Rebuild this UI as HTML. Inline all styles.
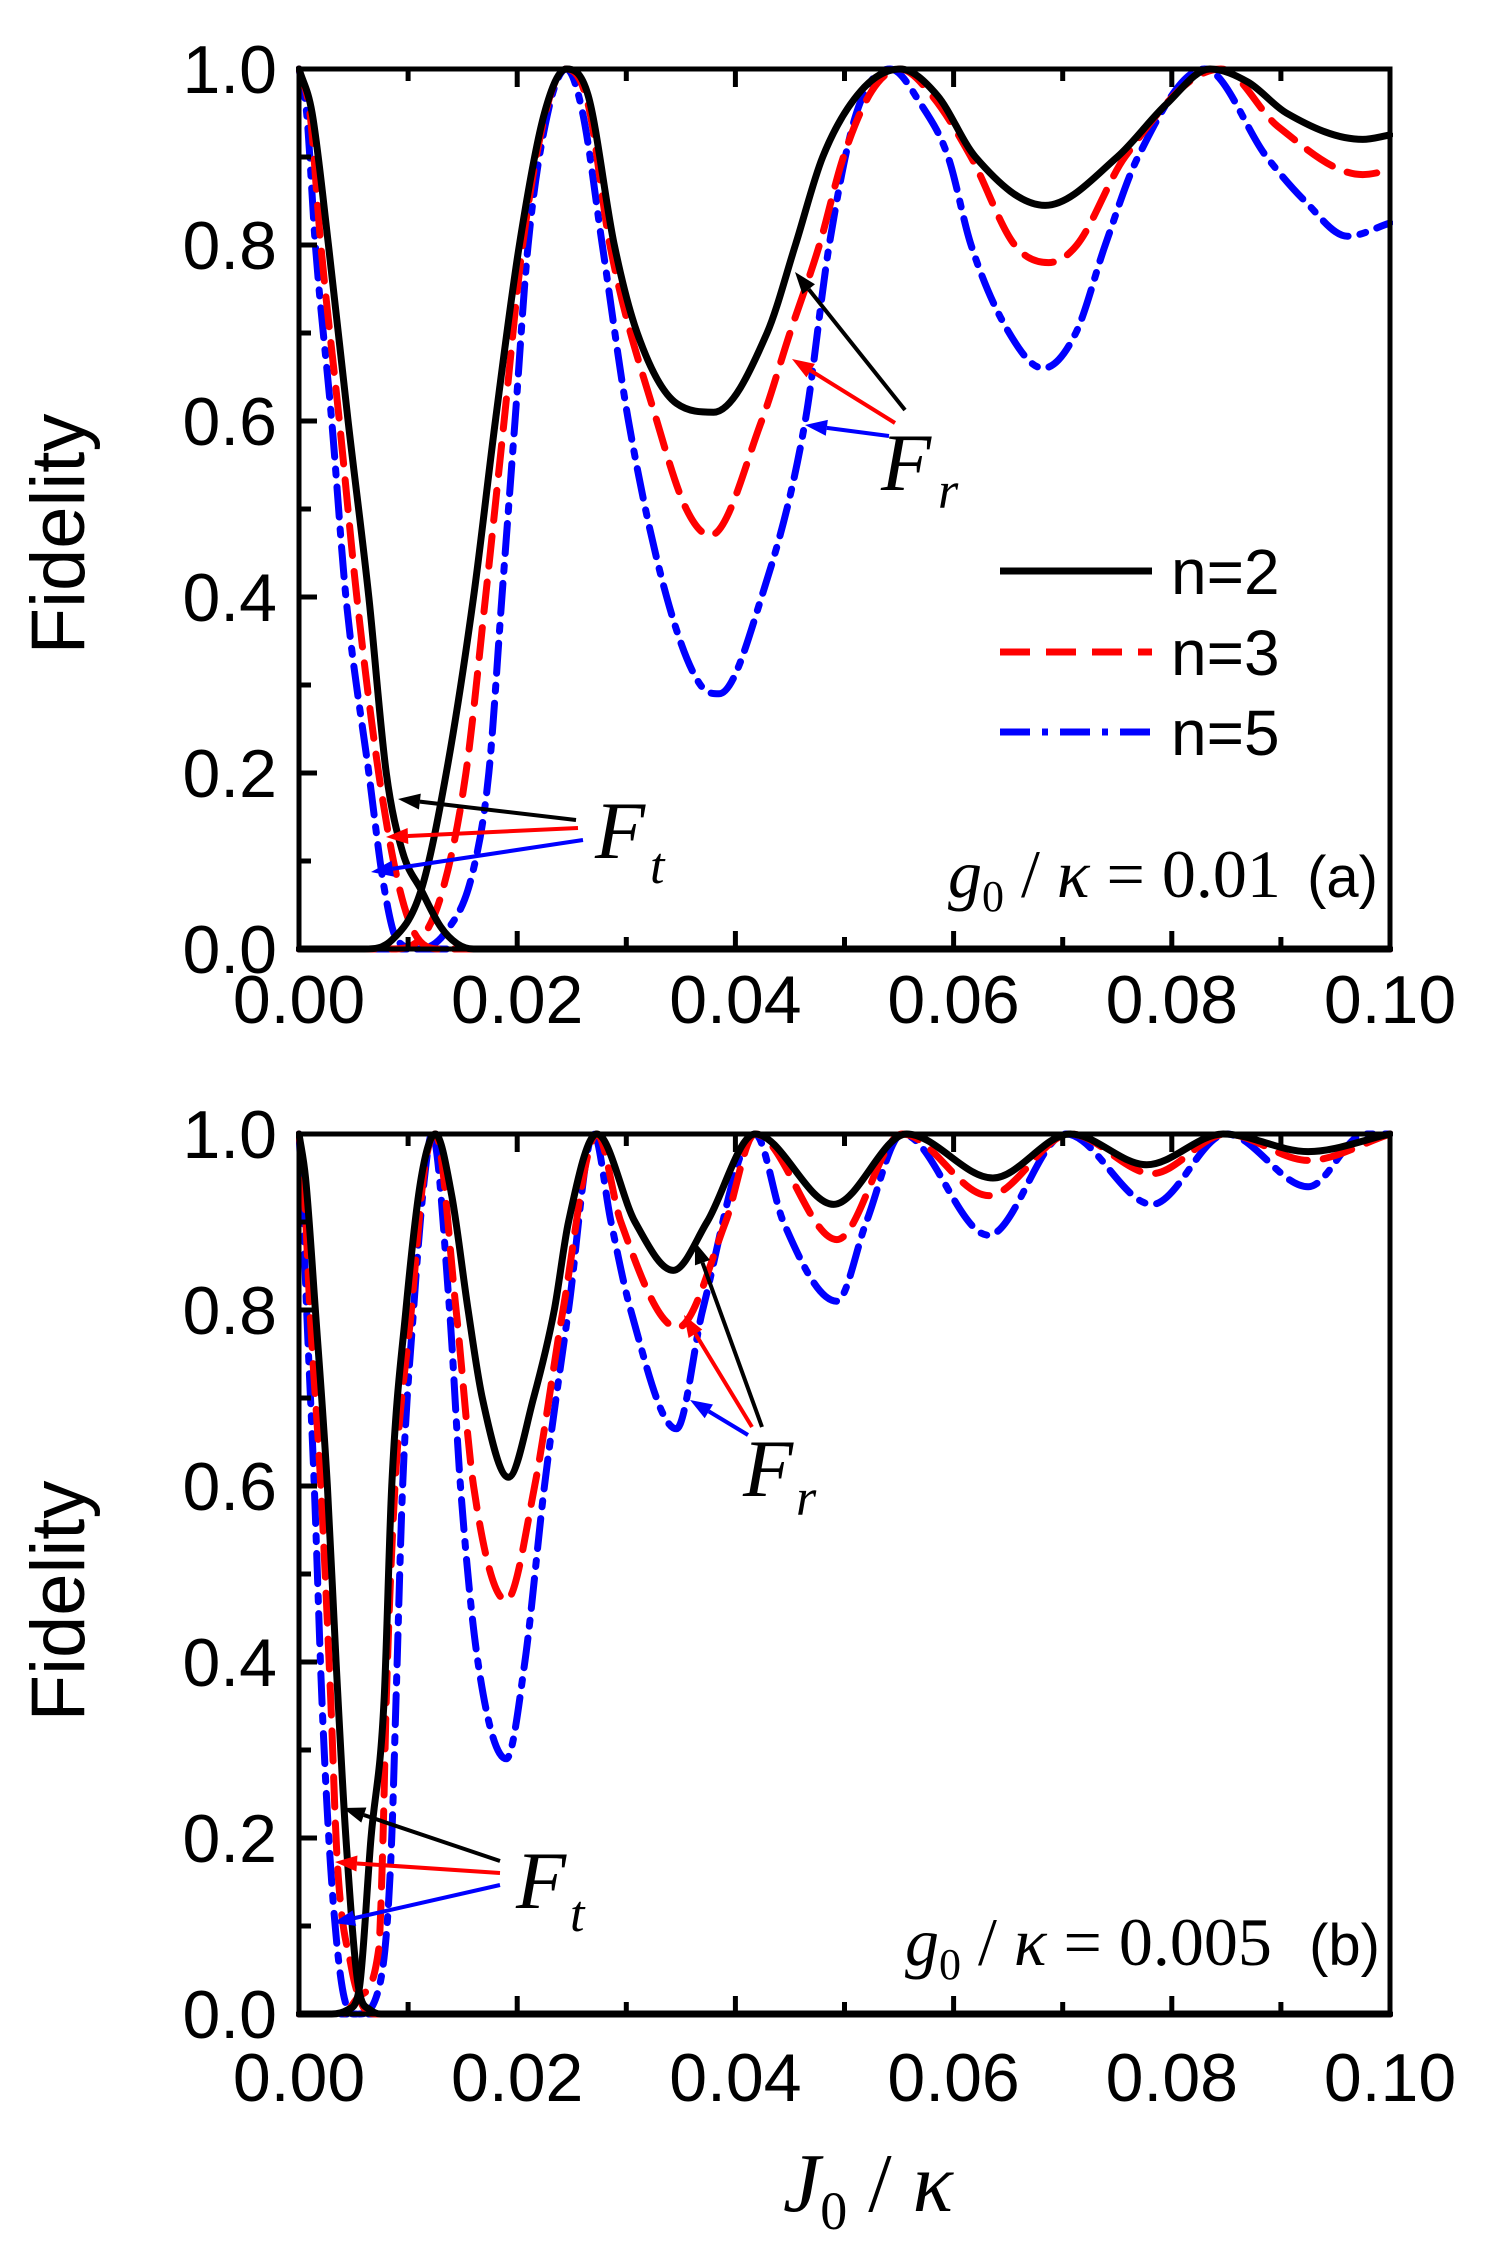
<!DOCTYPE html>
<html><head><meta charset="utf-8"><style>
html,body{margin:0;padding:0;background:#fff;}
svg{display:block;}
</style></head><body>
<svg id="fig" width="1490" height="2248" viewBox="0 0 1490 2248" xmlns="http://www.w3.org/2000/svg" style="font-family:'Liberation Sans',Arial,sans-serif">
<defs>
<clipPath id="clipA"><rect x="296" y="60" width="1097" height="893"/></clipPath>
<clipPath id="clipB"><rect x="296" y="1125" width="1097" height="893"/></clipPath>
</defs>
<g id="panelA"></g>
<g id="panelB"></g>
</svg>
<script>
// ---------- Panel (a) data: g0/kappa = 0.01 ----------
const a_n2_decay_x = [0,0.0012,0.0027,0.0045,0.0064,0.008,0.0095,0.0112,0.013,0.0145,0.016];
const a_n2_decay_y = [1,0.95,0.8,0.6,0.4,0.2,0.11,0.067,0.025,0.006,0];
const a_n2_osc_x = [0,0.006,0.0085,0.0112,0.0135,0.016,0.018,0.0202,0.0225,0.0245,0.0265,0.0289,0.031,0.0346,0.038,0.0429,0.0455,0.048,0.0515,0.0551,0.0585,0.062,0.0684,0.075,0.0795,0.0835,0.087,0.0905,0.0975,0.1];
const a_n2_osc_y = [0,0,0.01,0.067,0.2,0.4,0.6,0.8,0.95,1,0.97,0.8,0.7,0.62,0.61,0.7,0.8,0.9,0.975,1,0.97,0.9,0.845,0.9,0.96,1,0.985,0.95,0.92,0.925];
const a_n3_decay_x = [0,0.001,0.002,0.0037,0.0053,0.0073,0.009,0.0105,0.013];
const a_n3_decay_y = [1,0.95,0.8,0.6,0.4,0.2,0.08,0.02,0];
const a_n3_osc_x = [0,0.0085,0.011,0.0131,0.0153,0.0171,0.0188,0.0205,0.0228,0.0245,0.0265,0.0285,0.0328,0.0355,0.0377,0.0424,0.045,0.0477,0.0499,0.0525,0.0551,0.058,0.0616,0.0656,0.0687,0.0713,0.0757,0.0845,0.0897,0.0975,0.1];
const a_n3_osc_y = [0,0,0.01,0.064,0.2,0.4,0.6,0.8,0.96,1,0.96,0.8,0.6,0.5,0.47,0.6,0.7,0.8,0.9,0.975,1,0.97,0.9,0.8,0.78,0.8,0.9,1,0.935,0.88,0.885];
const a_n5_decay_x = [0,0.0007,0.0015,0.003,0.0043,0.0064,0.0078,0.009,0.011];
const a_n5_decay_y = [1,0.95,0.8,0.6,0.4,0.2,0.07,0.01,0];
const a_n5_osc_x = [0,0.011,0.0135,0.0159,0.0174,0.0186,0.0198,0.021,0.0228,0.0245,0.026,0.0278,0.0302,0.0337,0.0368,0.0385,0.0424,0.0464,0.0486,0.0511,0.0542,0.057,0.0595,0.0616,0.0651,0.0682,0.0712,0.0739,0.0769,0.083,0.0887,0.0922,0.0961,0.1];
const a_n5_osc_y = [0,0,0.02,0.086,0.2,0.4,0.6,0.8,0.95,1,0.95,0.8,0.6,0.4,0.3,0.29,0.4,0.6,0.8,0.95,1,0.96,0.9,0.8,0.7,0.66,0.7,0.8,0.9,1,0.9,0.85,0.81,0.825];

// ---------- Panel (b) data: g0/kappa = 0.005 ----------
const b_n2_decay_x = [0,0.0006,0.0015,0.0026,0.0034,0.0043,0.0055,0.0065,0.0075];
const b_n2_decay_y = [1,0.95,0.8,0.6,0.4,0.2,0.027,0.005,0];
const b_n2_osc_x = [0,0.003,0.0045,0.0055,0.0066,0.0078,0.0085,0.0098,0.0112,0.0125,0.014,0.0155,0.0168,0.0192,0.0215,0.0234,0.0247,0.0273,0.0308,0.0343,0.0374,0.0418,0.049,0.0557,0.0636,0.0707,0.0777,0.0847,0.0925,0.1];
const b_n2_osc_y = [0,0,0.005,0.027,0.2,0.357,0.6,0.8,0.95,1,0.93,0.8,0.7,0.61,0.7,0.8,0.9,1,0.9,0.845,0.9,1,0.92,1,0.95,1,0.965,1,0.98,1];
const b_n3_decay_x = [0,0.0005,0.001,0.002,0.0029,0.0035,0.0048,0.0058,0.007];
const b_n3_decay_y = [1,0.93,0.8,0.6,0.36,0.175,0.053,0.01,0];
const b_n3_osc_x = [0,0.004,0.0055,0.0073,0.0077,0.008,0.0088,0.0103,0.0115,0.0125,0.0144,0.016,0.019,0.0216,0.0242,0.0273,0.0295,0.0347,0.0391,0.0418,0.0493,0.0553,0.0632,0.0707,0.0782,0.085,0.0925,0.1];
const b_n3_osc_y = [0,0,0.02,0.073,0.2,0.357,0.6,0.8,0.96,1,0.8,0.6,0.47,0.6,0.8,1,0.9,0.78,0.9,1,0.88,1,0.93,1,0.955,1,0.97,1];
const b_n5_decay_x = [0,0.0003,0.0007,0.0014,0.0021,0.0029,0.0039,0.005];
const b_n5_decay_y = [1,0.93,0.8,0.6,0.357,0.167,0.035,0];
const b_n5_osc_x = [0,0.0055,0.0071,0.008,0.0085,0.0089,0.0095,0.0105,0.0115,0.0122,0.0138,0.0148,0.0164,0.019,0.0207,0.0225,0.0247,0.027,0.0286,0.0304,0.0346,0.037,0.0418,0.0444,0.0493,0.052,0.0553,0.0632,0.0703,0.0782,0.085,0.0925,0.0977,0.1];
const b_n5_osc_y = [0,0,0.02,0.09,0.2,0.36,0.6,0.8,0.95,1,0.8,0.6,0.4,0.29,0.4,0.6,0.8,1,0.9,0.8,0.665,0.8,1,0.9,0.81,0.9,1,0.885,1,0.92,1,0.94,1,1];

const xTickValues = [0,0.02,0.04,0.06,0.08,0.10];
const xTickLabels = ["0.00","0.02","0.04","0.06","0.08","0.10"];
const yTickValues = [0,0.2,0.4,0.6,0.8,1.0];
const yTickLabels = ["0.0","0.2","0.4","0.6","0.8","1.0"];
const seriesNames = ["n=2","n=3","n=5"];

const NS = "http://www.w3.org/2000/svg";
const X0 = 299, X1 = 1390;
function mk(tag, attrs, parent){ const e=document.createElementNS(NS,tag); for(const k in attrs) e.setAttribute(k,attrs[k]); if(parent) parent.appendChild(e); return e; }

function monotonePath(px, py){
  const n=px.length; if(n<2) return "";
  const d=[], m=new Array(n);
  for(let i=0;i<n-1;i++){ const dx=px[i+1]-px[i]; d.push(dx===0?0:(py[i+1]-py[i])/dx); }
  m[0]=d[0]; m[n-1]=d[n-2];
  for(let i=1;i<n-1;i++){ if(d[i-1]*d[i]<=0) m[i]=0; else { m[i]=(d[i-1]+d[i])/2; } }
  for(let i=0;i<n-1;i++){ if(d[i]===0){m[i]=0;m[i+1]=0;continue;} const a=m[i]/d[i], b=m[i+1]/d[i], s=a*a+b*b; if(s>9){const t=3/Math.sqrt(s); m[i]=t*a*d[i]; m[i+1]=t*b*d[i];} }
  let s="M"+px[0].toFixed(2)+","+py[0].toFixed(2);
  for(let i=0;i<n-1;i++){ const h=(px[i+1]-px[i])/3; s+=" C"+(px[i]+h).toFixed(2)+","+(py[i]+m[i]*h).toFixed(2)+" "+(px[i+1]-h).toFixed(2)+","+(py[i+1]-m[i+1]*h).toFixed(2)+" "+px[i+1].toFixed(2)+","+py[i+1].toFixed(2); }
  return s;
}

const styles = [
  {stroke:"#000", dash:null},
  {stroke:"#ff0000", dash:"30 16"},
  {stroke:"#0000ff", dash:"30 12 6 12"}
];

function drawPanel(g, yTop, yBot, clipId, data, tickBase){
  const sx = v => X0 + (v/0.1)*(X1-X0);
  const sy = v => yBot - v*(yBot-yTop);
  const curves = mk("g",{"clip-path":"url(#"+clipId+")"},g);
  
  
  for(let k=2;k>=0;k--){
    const s=data[k];
    [[s.dx,s.dy,"decay"],[s.ox,s.oy,"osc"]].forEach(([xs,ys,kind])=>{
      let px=xs.map(sx), py=ys.map(sy);
      if(kind==="decay"){ px=px.concat([sx(0.1)]); py=py.concat([sy(0)]); }
      const p=mk("path",{d:monotonePath(px,py),fill:"none",stroke:styles[k].stroke,"stroke-width":7,"stroke-linecap":"round","stroke-linejoin":"round"},curves);
      if(styles[k].dash) p.setAttribute("stroke-dasharray",styles[k].dash);
      
      
    });
  }
  const frame=mk("rect",{x:X0,y:yTop,width:X1-X0,height:yBot-yTop,fill:"none",stroke:"#000","stroke-width":5},g);
  
  
  for(let i=0;i<=10;i++){
    const v=i*0.01, x=sx(v), len=(i%2===0)?18:12;
    mk("line",{x1:x,y1:yBot,x2:x,y2:yBot-len,stroke:"#000","stroke-width":5},g);
    mk("line",{x1:x,y1:yTop,x2:x,y2:yTop+len,stroke:"#000","stroke-width":5},g);
  }
  for(let i=0;i<=10;i++){
    const v=i*0.1, y=sy(v), len=(i%2===0)?18:12;
    mk("line",{x1:X0,y1:y,x2:X0+len,y2:y,stroke:"#000","stroke-width":5},g);
  }
  xTickValues.forEach((v,i)=>{
    const t=mk("text",{x:sx(v),y:tickBase,"font-size":68,"text-anchor":"middle",fill:"#000"},g);
    t.textContent=xTickLabels[i];
    
    
  });
  yTickValues.forEach((v,i)=>{
    const t=mk("text",{x:277,y:sy(v)+24,"font-size":68,"text-anchor":"end",fill:"#000"},g);
    t.textContent=yTickLabels[i];
    
    
  });
}

function arrow(g, x1,y1,x2,y2,color,name){
  const a=mk("g",{},g);
  
  
  const ang=Math.atan2(y2-y1,x2-x1), L=22, W=8;
  const bx=x2-L*Math.cos(ang), by=y2-L*Math.sin(ang);
  mk("line",{x1:x1,y1:y1,x2:bx,y2:by,stroke:color,"stroke-width":4},a);
  mk("polygon",{points:`${x2},${y2} ${bx+W*Math.sin(ang)},${by-W*Math.cos(ang)} ${bx-W*Math.sin(ang)},${by+W*Math.cos(ang)}`,fill:color},a);
}

const gA=document.getElementById("panelA"), gB=document.getElementById("panelB");
drawPanel(gA,69,949,"clipA",[
  {dx:a_n2_decay_x,dy:a_n2_decay_y,ox:a_n2_osc_x,oy:a_n2_osc_y},
  {dx:a_n3_decay_x,dy:a_n3_decay_y,ox:a_n3_osc_x,oy:a_n3_osc_y},
  {dx:a_n5_decay_x,dy:a_n5_decay_y,ox:a_n5_osc_x,oy:a_n5_osc_y}],1023);
drawPanel(gB,1134,2014,"clipB",[
  {dx:b_n2_decay_x,dy:b_n2_decay_y,ox:b_n2_osc_x,oy:b_n2_osc_y},
  {dx:b_n3_decay_x,dy:b_n3_decay_y,ox:b_n3_osc_x,oy:b_n3_osc_y},
  {dx:b_n5_decay_x,dy:b_n5_decay_y,ox:b_n5_osc_x,oy:b_n5_osc_y}],2101);

arrow(gA,905,410,795,272,"#000","arrow-fr-n2");
arrow(gA,895,423,792,359,"#ff0000","arrow-fr-n3");
arrow(gA,889,436,805,425,"#0000ff","arrow-fr-n5");
arrow(gA,576,820,398,799,"#000","arrow-ft-n2");
arrow(gA,578,828,386,837,"#ff0000","arrow-ft-n3");
arrow(gA,583,840,371,872,"#0000ff","arrow-ft-n5");
arrow(gB,762,1427,695,1242,"#000","arrow-fr-n2");
arrow(gB,752,1427,684,1315,"#ff0000","arrow-fr-n3");
arrow(gB,748,1435,690,1400,"#0000ff","arrow-fr-n5");
arrow(gB,500,1861,343,1808,"#000","arrow-ft-n2");
arrow(gB,500,1873,335,1862,"#ff0000","arrow-ft-n3");
arrow(gB,500,1885,333,1923,"#0000ff","arrow-ft-n5");

const leg=mk("g",{},gA);


[571,652,732].forEach((y,k)=>{
  const e=mk("g",{},leg);
  
  
  const l=mk("line",{x1:1000,y1:y,x2:1152,y2:y,stroke:styles[k].stroke,"stroke-width":7},e);
  if(styles[k].dash) l.setAttribute("stroke-dasharray",styles[k].dash);
  const t=mk("text",{x:1171,y:y+23,"font-size":64,fill:"#000"},e);
  t.textContent=seriesNames[k];
});
</script>
<svg style="position:absolute;left:0;top:0" width="1490" height="2248" viewBox="0 0 1490 2248" xmlns="http://www.w3.org/2000/svg">
<text transform="translate(84,534) rotate(-90)" text-anchor="middle" font-size="76" style="font-family:'Liberation Sans',sans-serif">Fidelity</text>
<text transform="translate(84,1601) rotate(-90)" text-anchor="middle" font-size="76" style="font-family:'Liberation Sans',sans-serif">Fidelity</text>
<text x="783" y="2211" font-size="84" style="font-family:'Liberation Serif',serif"><tspan font-style="italic">J</tspan><tspan font-size="54" dy="18">0</tspan><tspan dy="-18"> / </tspan><tspan font-style="italic">κ</tspan></text>
<text x="881" y="490" font-size="82" font-style="italic" style="font-family:'Liberation Serif',serif">F<tspan font-size="52" x="938" y="508">r</tspan></text>
<text x="595" y="858" font-size="82" font-style="italic" style="font-family:'Liberation Serif',serif">F<tspan font-size="52" x="650" y="883">t</tspan></text>
<text x="743" y="1496" font-size="82" font-style="italic" style="font-family:'Liberation Serif',serif">F<tspan font-size="52" x="796" y="1515">r</tspan></text>
<text x="516" y="1908" font-size="82" font-style="italic" style="font-family:'Liberation Serif',serif">F<tspan font-size="52" x="570" y="1931">t</tspan></text>
<text x="948" y="897" font-size="68" style="font-family:'Liberation Serif',serif"><tspan font-style="italic">g</tspan><tspan font-size="44" dy="14">0</tspan><tspan dy="-14"> / </tspan><tspan font-style="italic">κ</tspan> = 0.01</text>
<text x="1378" y="897" text-anchor="end" font-size="58" style="font-family:'Liberation Sans',sans-serif">(a)</text>
<text x="905" y="1965" font-size="68" style="font-family:'Liberation Serif',serif"><tspan font-style="italic">g</tspan><tspan font-size="44" dy="14">0</tspan><tspan dy="-14"> / </tspan><tspan font-style="italic">κ</tspan> = 0.005</text>
<text x="1380" y="1965" text-anchor="end" font-size="58" style="font-family:'Liberation Sans',sans-serif">(b)</text>
</svg>
</body></html>
